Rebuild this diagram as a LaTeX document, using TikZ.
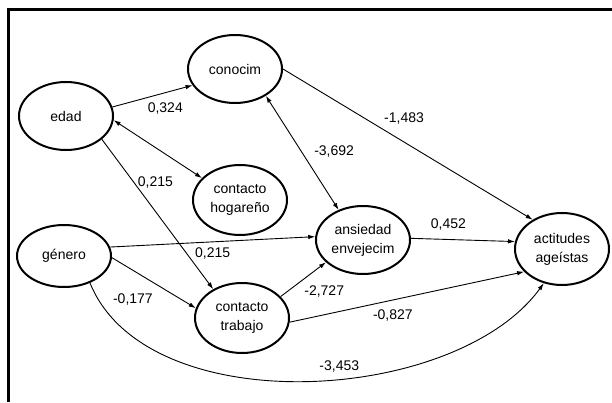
\documentclass[tikz,border=0pt]{standalone}
\usepackage{fontspec}
\setmainfont{Liberation Sans}
\usetikzlibrary{shapes.geometric,arrows.meta}

\tikzset{
  var/.style={draw,ellipse,line width=2pt,minimum width=94pt,minimum height=68pt,align=center,inner sep=0pt},
  every edge/.style={draw,line width=0.9pt}
}

\begin{document}
\begin{tikzpicture}[x=1pt,y=1pt,>={Latex[length=7pt,width=4.5pt]},font=\fontsize{14}{19}\selectfont]
	\useasboundingbox (0,0) rectangle (612,402);
	\draw[line width=3pt] (8.5,0) -- (8.5,392.5) -- (612,392.5);
	\node[var] (edad) at (66,286) {edad};
	\node[var] (conocim) at (235,333) {conocim};
	\node[var,minimum height=70pt] (hogar) at (240,202) {contacto\\hogareño};
	\node[var,minimum height=62pt] (genero) at (64,146) {género};
	\node[var,minimum height=70pt] (trabajo) at (242,84) {contacto\\trabajo};
	\node[var] (ansiedad) at (363,162) {ansiedad\\envejecim};
	\node[var,minimum height=72pt] (actitudes) at (562,153) {actitudes\\ageístas};
    \path (edad.11) edge[->] node[pos=0.66,below=6pt] (l1) {0,324} (conocim.201)
        (edad.-5) edge[<->] (hogar.150)
        (edad.-33) edge[->] node[pos=0.29,right] (l2) {0,215} (trabajo.135)
        (conocim.-41) edge[<->] node[pos=0.49,right=9pt] (l3) {-3,692} (ansiedad.129)
        (conocim.0) edge[->] node[pos=0.39,above right=0pt] (l4) {-1,483} (actitudes.135)
        (genero.11) edge[->] node[pos=0.5,below=2pt] (l5) {0,215} (ansiedad.176)
        (genero.-2) edge[->] node[pos=0.25,below=20pt] (l6) {-0,177} (trabajo.168)
        (trabajo.29) edge[->] node[pos=0.44,below right=0pt] (l7) {-2,727} (ansiedad.211)
        (trabajo.-5) edge[->] node[pos=0.44,below=6pt] (l8) {-0,827} (actitudes.211)
        (ansiedad.2) edge[->] node[pos=0.36,above=5pt] (l9) {0,452} (actitudes.171)
        (genero.-46) edge[->,out=-68,in=-126,looseness=0.85] node[pos=0.56,above=3pt] (l10) {-3,453} (actitudes.242);
	
\end{tikzpicture}
\end{document}
